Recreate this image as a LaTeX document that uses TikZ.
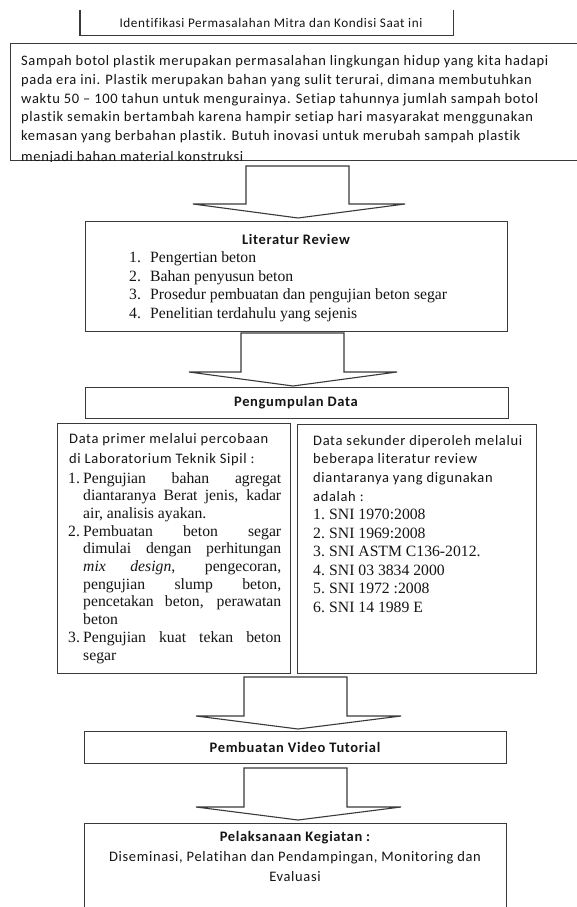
\documentclass[tikz,border=0pt]{standalone}
\usepackage{fontspec}
\setmainfont{Carlito}[LetterSpace=4.5, Ligatures={NoCommon}]
\newfontfamily\tms{Liberation Serif}
\definecolor{linec}{HTML}{3A3A3A}
\definecolor{txtc}{HTML}{151515}
\newcommand\barrow[8]{\draw[blockarr] (#1,#3) -- (#1,#4) -- (#5,#4) -- (#7,#8) -- (#6,#4) -- (#2,#4) -- (#2,#3) -- cycle;}
\begin{document}
\begin{tikzpicture}[x=1pt,y=-1pt,
  box/.style={draw=linec, line width=1.1pt, rectangle, inner sep=0pt, anchor=north west},
  blockarr/.style={draw=linec, line width=1.1pt, fill=white, line join=miter},
  txt/.style={inner sep=0pt, anchor=base west, text=txtc},
  ctxt/.style={inner sep=0pt, anchor=center, text=txtc},
  cal/.style={font=\fontsize{14.5}{17}\selectfont},
  calb/.style={font=\fontsize{14.5}{17}\selectfont\bfseries},
  tm/.style={font=\tms\fontsize{15.7}{18}\selectfont},
]
\useasboundingbox (0,0) rectangle (576,907);
\fill[white] (0,0) rectangle (576,907);

% boxes
\node[inner sep=0pt, anchor=north west, minimum width=373pt, minimum height=25pt] (idbox) at (80,10) {};
\draw[draw=linec, line width=1.1pt] (idbox.north west) -- (idbox.south west) -- (idbox.south east) -- (idbox.north east);
\node[box, minimum width=575pt, minimum height=117pt] (probbox) at (10,43) {};
\node[box, minimum width=422pt, minimum height=110pt] (litbox) at (85,221) {};
\node[box, minimum width=423pt, minimum height=31pt] (pengbox) at (85,387) {};
\node[box, minimum width=233pt, minimum height=250pt] (primbox) at (57,423) {};
\node[box, minimum width=239pt, minimum height=249pt] (sekbox) at (297,424) {};
\node[box, minimum width=422pt, minimum height=32pt] (vidbox) at (84,731) {};
\node[box, minimum width=422pt, minimum height=92pt] (pelbox) at (84,823) {};

% block arrows
\barrow{246}{349}{166}{204}{193}{405}{298}{218}
\barrow{241}{344}{333}{372}{189}{397}{293}{386}
\barrow{244}{347}{677}{716}{196}{401}{298}{729}
\barrow{244}{347}{768}{807}{196}{401}{298}{820}

% title
\node[ctxt, font=\fontsize{13.2}{15}\selectfont] (idtxt) at (271,23) {Identifikasi Permasalahan Mitra dan Kondisi Saat ini};

% problem text (clipped by box)
\begin{scope}
\clip (probbox.north west) rectangle (probbox.south east);
\node[txt, cal] (p1) at (21,66) {Sampah botol plastik merupakan permasalahan lingkungan hidup yang kita hadapi};
\node[txt, cal] (p2) at (21,84.6) {pada era ini. Plastik merupakan bahan yang sulit terurai, dimana membutuhkan};
\node[txt, cal] (p3) at (21,103.2) {waktu 50 – 100 tahun untuk mengurainya. Setiap tahunnya jumlah sampah botol};
\node[txt, cal] (p4) at (21,121.8) {plastik semakin bertambah karena hampir setiap hari masyarakat menggunakan};
\node[txt, cal] (p5) at (21,140.4) {kemasan yang berbahan plastik. Butuh inovasi untuk merubah sampah plastik};
\node[txt, cal] (p6) at (21,161) {menjadi bahan material konstruksi};
\end{scope}

% literatur review
\node[ctxt, calb] (littitle) at (296,239) {Literatur Review};
\node[txt, tm] (ln1) at (129,262) {1.};
\node[txt, tm] (l1) at (150,262) {Pengertian beton};
\node[txt, tm] (ln2) at (129,281) {2.};
\node[txt, tm] (l2) at (150,281) {Bahan penyusun beton};
\node[txt, tm] (ln3) at (129,299) {3.};
\node[txt, tm] (l3) at (150,299) {Prosedur pembuatan dan pengujian beton segar};
\node[txt, tm] (ln4) at (129,318) {4.};
\node[txt, tm] (l4) at (150,318) {Penelitian terdahulu yang sejenis};

% pengumpulan data
\node[ctxt, calb] (pengtxt) at (296,403) {Pengumpulan Data};

% primer
\node[txt, cal] (a1) at (69,443) {Data primer melalui percobaan};
\node[txt, cal] (a2) at (69,463) {di Laboratorium Teknik Sipil :};
\node[txt, tm] (an1) at (68,483) {1.};
\node[txt, tm] (b1) at (83,483) {\makebox[198pt][s]{Pengujian bahan agregat}};
\node[txt, tm] (b2) at (83,500.7) {\makebox[198pt][s]{diantaranya Berat jenis, kadar}};
\node[txt, tm] (b3) at (83,518.4) {air, analisis ayakan.};
\node[txt, tm] (an2) at (68,536.1) {2.};
\node[txt, tm] (b4) at (83,536.1) {\makebox[198pt][s]{Pembuatan beton segar}};
\node[txt, tm] (b5) at (83,553.8) {\makebox[198pt][s]{dimulai dengan perhitungan}};
\node[txt, tm] (b6) at (83,571.5) {\makebox[198pt][s]{\textit{mix} \textit{design}, pengecoran,}};
\node[txt, tm] (b7) at (83,589.2) {\makebox[198pt][s]{pengujian slump beton,}};
\node[txt, tm] (b8) at (83,606.9) {\makebox[198pt][s]{pencetakan beton, perawatan}};
\node[txt, tm] (b9) at (83,624.6) {beton};
\node[txt, tm] (an3) at (68,642.3) {3.};
\node[txt, tm] (b10) at (83,642.3) {\makebox[198pt][s]{Pengujian kuat tekan beton}};
\node[txt, tm] (b11) at (83,660) {segar};

% sekunder
\node[txt, cal] (c1) at (313,445) {Data sekunder diperoleh melalui};
\node[txt, cal] (c2) at (313,463.5) {beberapa literatur review};
\node[txt, cal] (c3) at (313,482) {diantaranya yang digunakan};
\node[txt, cal] (c4) at (313,501) {adalah :};
\node[txt, tm] (cn1) at (313,519) {1.};
\node[txt, tm] (d1) at (329,519) {SNI 1970:2008};
\node[txt, tm] (cn2) at (313,538) {2.};
\node[txt, tm] (d2) at (329,538) {SNI 1969:2008};
\node[txt, tm] (cn3) at (313,556) {3.};
\node[txt, tm] (d3) at (329,556) {SNI ASTM C136-2012.};
\node[txt, tm] (cn4) at (313,575) {4.};
\node[txt, tm] (d4) at (329,575) {SNI 03 3834 2000};
\node[txt, tm] (cn5) at (313,593) {5.};
\node[txt, tm] (d5) at (329,593) {SNI 1972 :2008};
\node[txt, tm] (cn6) at (313,612) {6.};
\node[txt, tm] (d6) at (329,612) {SNI 14 1989 E};

% video
\node[ctxt, calb] (vidtxt) at (295,747) {Pembuatan Video Tutorial};

% pelaksanaan
\node[ctxt, calb] (peltitle) at (295,838) {Pelaksanaan Kegiatan :};
\node[ctxt, cal] (pel1) at (295,858) {Diseminasi, Pelatihan dan Pendampingan, Monitoring dan};
\node[ctxt, cal] (pel2) at (295,877) {Evaluasi};
\end{tikzpicture}
\end{document}
